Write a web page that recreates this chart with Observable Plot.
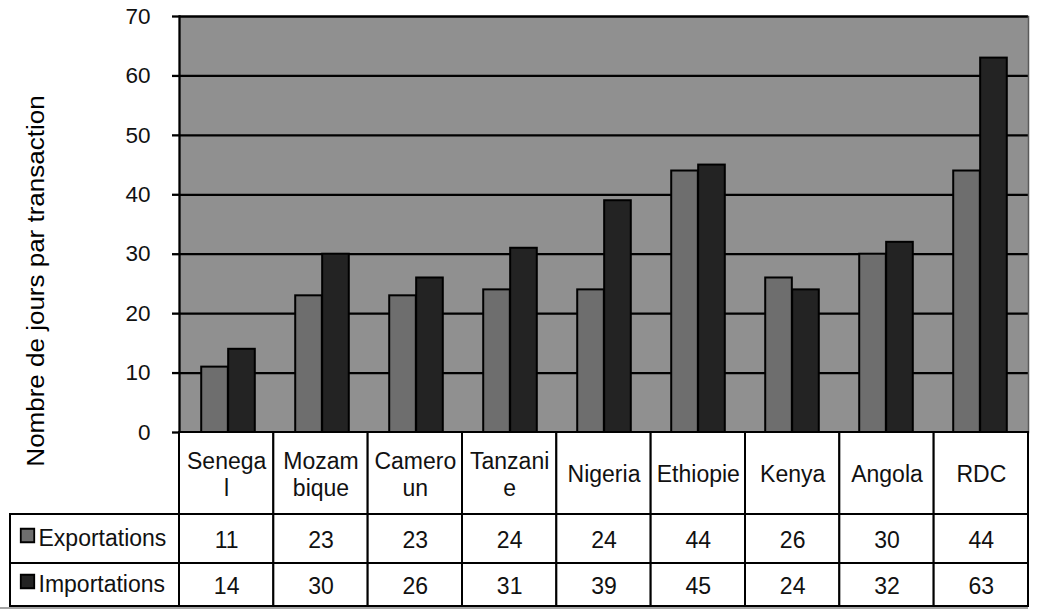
<!DOCTYPE html>
<html>
<head>
<meta charset="utf-8">
<script src="https://cdn.jsdelivr.net/npm/d3@7"></script>
<script src="https://cdn.jsdelivr.net/npm/@observablehq/plot@0.6"></script>
<style>
  html, body { margin: 0; background: #fff; }
  #fig { position: relative; width: 1043px; height: 609px; overflow: hidden;
         font-family: "Liberation Sans", Arial, sans-serif; color: #000; }
  #fig svg { position: absolute; left: 0; }
  #ytitle { position: absolute; left: 35.5px; top: 281px; font-size: 23px; line-height: 1;
            white-space: nowrap; transform: translate(-50%, -50%) rotate(-90deg) scaleX(1.13); }
  #foot { position: absolute; left: 0; top: 607px; width: 1028px; height: 2px; background: #a3a3a3; }
</style>
</head>
<body>
<div id="fig"></div>
<script>
// Délai moyen (jours) par transaction commerciale
const pays = ["Senegal", "Mozambique", "Cameroun", "Tanzanie", "Nigeria", "Ethiopie", "Kenya", "Angola", "RDC"];
const etiquettes = ["Senega\nl", "Mozam\nbique", "Camero\nun", "Tanzani\ne", "Nigeria", "Ethiopie", "Kenya", "Angola", "RDC"];
const series = ["Exportations", "Importations"];
const exportations = [11, 23, 23, 24, 24, 44, 26, 30, 44];
const importations = [14, 30, 26, 31, 39, 45, 24, 32, 63];
const yTicks = [0, 10, 20, 30, 40, 50, 60, 70];
const yTitre = "Nombre de jours par transaction";

// Mise en page
const W = 1043, LEFT = 179, RIGHT = 1028, TOP = 16, AXIS = 432, TABLE_LEFT = 10, TABLE_BOTTOM = 606;
const FONT = "'Liberation Sans', Arial, sans-serif";
const BG = "#909090", EXP = "#6e6e6e", IMP = "#232323";
const bw = (RIGHT - LEFT) / pays.length;   // largeur d'une catégorie
const barW = bw / 3.5;                      // deux barres + écart de 150 %
const gap = 0.75 * barW;

const valeurs = {Exportations: exportations, Importations: importations};
const barres = series.flatMap(s => pays.map((p, i) => ({pays: p, serie: s, valeur: valeurs[s][i]})));

const fig = document.getElementById("fig");

// Graphique en barres groupées
const chart = Plot.plot({
  width: W,
  height: AXIS + 4,
  marginTop: TOP,
  marginBottom: 4,
  marginLeft: LEFT,
  marginRight: W - RIGHT,
  style: `background: transparent; overflow: visible; font-family: ${FONT};`,
  x: {type: "band", domain: pays, padding: 0, axis: null},
  y: {domain: [0, 70], axis: null},
  marks: [
    Plot.frame({fill: BG, stroke: null}),
    Plot.ruleY(yTicks.filter(t => t > 0), {stroke: "#000", strokeWidth: 2.3}),
    Plot.barY(barres.filter(d => d.serie === "Exportations"), {
      x: "pays", y: "valeur", fill: EXP, stroke: "#000", strokeWidth: 2,
      insetLeft: gap, insetRight: bw - gap - barW
    }),
    Plot.barY(barres.filter(d => d.serie === "Importations"), {
      x: "pays", y: "valeur", fill: IMP, stroke: "#000", strokeWidth: 2,
      insetLeft: gap + barW, insetRight: gap
    }),
    Plot.frame({anchor: "right", stroke: "#5a5a5a", strokeWidth: 1.5}),
    Plot.ruleY([0], {stroke: "#000", strokeWidth: 2.3}),
    Plot.frame({anchor: "left", stroke: "#000", strokeWidth: 2.3}),
    Plot.axisY({
      ticks: yTicks, tickSize: 7, tickPadding: 22, tickFormat: d => String(d),
      fontSize: 22.5, stroke: "#000", strokeWidth: 2.3, fill: "#111", label: null
    })
  ]
});
chart.style.top = "0px";
fig.appendChild(chart);

// Tableau de données sous le graphique
const legendSpan = (LEFT - TABLE_LEFT) / bw;       // largeur de la colonne de légende, en colonnes
const hauteurs = {entete: 82, Exportations: 49, Importations: 43};
const lignes = {
  entete: [0, hauteurs.entete],
  Exportations: [hauteurs.entete, hauteurs.entete + hauteurs.Exportations],
  Importations: [hauteurs.entete + hauteurs.Exportations, hauteurs.entete + hauteurs.Exportations + hauteurs.Importations]
};
const totalH = lignes.Importations[1];

const entetes = pays.map((p, i) => ({x1: i, x2: i + 1, y1: lignes.entete[0], y2: lignes.entete[1], label: etiquettes[i]}));
const cellules = series.flatMap(s => valeurs[s].map((v, i) => ({
  x1: i, x2: i + 1, y1: lignes[s][0], y2: lignes[s][1], label: String(v)
})));
const legende = series.map(s => ({x1: -legendSpan, x2: 0, y1: lignes[s][0], y2: lignes[s][1], label: s}));

const cx = d => (d.x1 + d.x2) / 2;
const cy = d => (d.y1 + d.y2) / 2;
const TABLE_TOP = AXIS - 4;
const tableH = 609 - TABLE_TOP;

const table = Plot.plot({
  width: W,
  height: tableH,
  marginTop: 4,
  marginBottom: tableH - 4 - (TABLE_BOTTOM - AXIS),
  marginLeft: TABLE_LEFT,
  marginRight: W - RIGHT,
  style: `background: transparent; overflow: visible; font-family: ${FONT};`,
  x: {type: "linear", domain: [-legendSpan, pays.length], axis: null},
  y: {type: "linear", domain: [0, totalH], reverse: true, axis: null},
  color: {domain: series, range: [EXP, IMP]},
  marks: [
    Plot.rect([...entetes, ...cellules, ...legende], {
      x1: "x1", x2: "x2", y1: "y1", y2: "y2", fill: "#fff", stroke: "#000", strokeWidth: 2
    }),
    Plot.text(entetes, {x: cx, y: cy, text: "label", fontSize: 23, lineHeight: 1.18, fill: "#111"}),
    Plot.text(cellules, {x: cx, y: cy, dy: 2, text: "label", fontSize: 23, fill: "#111"}),
    Plot.dot(legende, {
      x: "x1", y: cy, dx: 17, dy: -3.5, symbol: "square", r: 7.6,
      fill: "label", stroke: "#000", strokeWidth: 1.8
    }),
    Plot.text(legende, {x: "x1", y: cy, dx: 28, text: "label", textAnchor: "start", fontSize: 23, fill: "#111"})
  ]
});
table.style.top = TABLE_TOP + "px";
fig.appendChild(table);

// Titre de l'axe vertical
const titre = document.createElement("div");
titre.id = "ytitle";
titre.textContent = yTitre;
fig.appendChild(titre);

const pied = document.createElement("div");
pied.id = "foot";
fig.appendChild(pied);
</script>
</body>
</html>
